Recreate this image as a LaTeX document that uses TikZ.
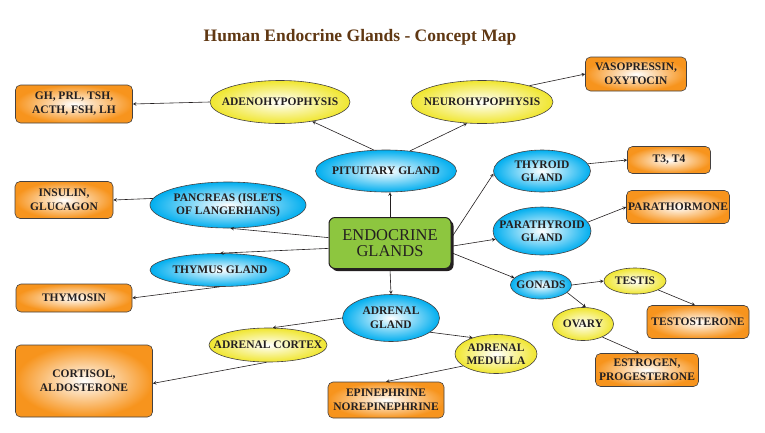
\documentclass[tikz,border=0pt]{standalone}
\usepackage{fontspec}
\setmainfont{Liberation Serif}
\usepackage{xcolor}
\usepackage{tikz}
\usetikzlibrary{arrows,positioning,calc,shapes,shadows}

\definecolor{hormoneorange}{HTML}{F7941D}
\definecolor{glandblue}{HTML}{00AEEF}
\definecolor{partyellow}{HTML}{F0E62E}
\definecolor{hubgreen}{HTML}{8DC63F}
\definecolor{titlebrown}{HTML}{603813}
\definecolor{inkgray}{HTML}{231F20}

\tikzset{
  gland/.style={ellipse,draw=inkgray!85,line width=0.6pt,shading=radial,
    inner color=white,outer color=glandblue,inner sep=-15pt,align=center,
    text=inkgray,font=\fontsize{11.5}{13.5}\selectfont\bfseries},
  part/.style={gland,outer color=partyellow},
  hormone/.style={rectangle,rounded corners=5pt,draw=inkgray!85,line width=0.6pt,
    shading=radial,inner color=white,outer color=hormoneorange,inner sep=1pt,
    align=center,text=inkgray,font=\fontsize{11.5}{14}\selectfont\bfseries},
  hub/.style={rectangle,rounded corners=6pt,draw=inkgray,line width=1pt,
    fill=hubgreen,align=center,text=inkgray,
    drop shadow={shadow xshift=2.5pt,shadow yshift=-2.5pt,opacity=1,fill=inkgray},
    font=\fontsize{16.5}{16}\selectfont},
  link/.style={->,>=stealth,line width=0.6pt,draw=inkgray}
}

\begin{document}
\begin{tikzpicture}[x=1pt,y=-1pt]
\useasboundingbox (0,0) rectangle (765,432);

% Title
\node[font=\fontsize{17.5}{20}\selectfont\bfseries,text=titlebrown] (title) at (360,37) {Human Endocrine Glands - Concept Map};

% Centre
\node[hub,minimum width=122,minimum height=51] (endo) at (390,243) {ENDOCRINE\\GLANDS};

% Pituitary branch
\node[gland,minimum width=141,minimum height=42] (pit) at (386,171) {PITUITARY GLAND};
\node[part,minimum width=140,minimum height=43] (adeno) at (280,102) {ADENOHYPOPHYSIS};
\node[part,minimum width=142,minimum height=43] (neuro) at (482,102) {NEUROHYPOPHYSIS};
\node[hormone,minimum width=117,minimum height=38] (gh) at (74,104) {GH, PRL, TSH,\\ACTH, FSH, LH};
\node[hormone,minimum width=101,minimum height=34] (vaso) at (636,74) {VASOPRESSIN,\\OXYTOCIN};

% Left side
\node[gland,minimum width=156,minimum height=46] (pan) at (228,205) {PANCREAS (ISLETS\\OF LANGERHANS)};
\node[hormone,minimum width=98,minimum height=37] (insulin) at (64,200) {INSULIN,\\GLUCAGON};
\node[gland,minimum width=140,minimum height=33] (thymus) at (220,270) {THYMUS GLAND};
\node[hormone,minimum width=116,minimum height=28] (thymosin) at (74,298) {THYMOSIN};

% Adrenal branch
\node[gland,minimum width=97,minimum height=47] (adrenal) at (391,318) {ADRENAL\\GLAND};
\node[part,minimum width=118,minimum height=34] (cortex) at (268,345) {ADRENAL CORTEX};
\node[hormone,minimum width=137,minimum height=72] (cortisol) at (84,381) {CORTISOL,\\ALDOSTERONE};
\node[part,minimum width=82,minimum height=39] (medulla) at (496,354) {ADRENAL\\MEDULLA};
\node[hormone,minimum width=116,minimum height=36] (epi) at (386,400) {EPINEPHRINE\\NOREPINEPHRINE};

% Right side
\node[gland,minimum width=97,minimum height=42] (thyroid) at (542,171) {THYROID\\GLAND};
\node[hormone,minimum width=83,minimum height=27] (tthree) at (669,160) {T3, T4};
\node[gland,minimum width=98,minimum height=48] (para) at (542,231) {PARATHYROID\\GLAND};
\node[hormone,minimum width=103,minimum height=33] (pth) at (678,207) {PARATHORMONE};
\node[gland,minimum width=61,minimum height=28] (gonads) at (541,285) {GONADS};
\node[part,minimum width=62,minimum height=26] (testis) at (635,281) {TESTIS};
\node[part,minimum width=61,minimum height=33] (ovary) at (583,324) {OVARY};
\node[hormone,minimum width=102,minimum height=33] (testo) at (698,322) {TESTOSTERONE};
\node[hormone,minimum width=103,minimum height=33] (estro) at (647,370) {ESTROGEN,\\PROGESTERONE};

% Links
\draw[link] (endo.north) -- (endo.north |- pit.south);
\draw[link] (pit.120) -- (adeno.-31);
\draw[link] (pit.40) -- (neuro.-125);
\draw[link] (adeno.west) -- (gh.east);
\draw[link] (neuro.19) -- (vaso.west);
\draw[link] (endo.175) -- (pan.-84);
\draw[link] (endo.185) -- (thymus.north);
\draw[link] (pan.175) -- (insulin.east);
\draw[link] (thymus.south) -- (thymosin.east);
\draw[link] (endo.south) -- (adrenal.north);
\draw[link] (adrenal.west) -- (cortex.75);
\draw[link] (adrenal.-20) -- (medulla.145);
\draw[link] (cortex.-95) -- (cortisol.-2);
\draw[link] (medulla.200) -- (epi.north);
\draw[link] (endo.5) -- (thyroid.183);
\draw[link] (endo.-3) -- (para.190);
\draw[link] (endo.-9) -- (gonads.165);
\draw[link] (thyroid.9) -- (tthree.west);
\draw[link] (para.11) -- (pth.west);
\draw[link] (gonads.east) -- (testis.west);
\draw[link] (gonads.-16) -- (ovary.80);
\draw[link] (testis.-21) -- (testo.100);
\draw[link] (ovary.-34) -- (estro.115);
\end{tikzpicture}
\end{document}
